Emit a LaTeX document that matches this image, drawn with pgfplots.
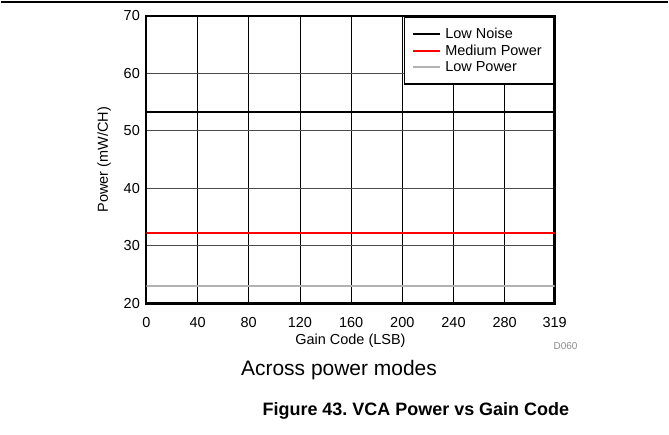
\documentclass[border=0pt]{standalone}
\usepackage{fontspec}
\setmainfont{Liberation Sans}
\usepackage{pgfplots}
\pgfplotsset{compat=1.18}
\frenchspacing
\begin{document}
\begin{tikzpicture}
\path (0pt,0pt) rectangle (669pt,435pt);
\draw[line width=1.3pt] (0pt,433pt) -- (669pt,433pt);
\begin{axis}[
  at={(146pt,131pt)}, anchor=south west,
  scale only axis, width=409pt, height=288pt,
  xmin=0, xmax=319, ymin=20, ymax=70,
  xtick={0,40,80,120,160,200,240,280,319},
  ytick={20,30,40,50,60,70},
  xmajorgrids, ymajorgrids,
  x grid style={black, line width=0.8pt},
  y grid style={black!70, line width=0.9pt},
  axis line style={line width=2.2pt},
  tick style={draw=none},
  /pgf/number format/assume math mode=true,
  ticklabel style={font=\fontsize{14.5}{17}\selectfont},
  xticklabel style={yshift=-10pt},
  yticklabel style={xshift=-3pt},
  xlabel={Gain Code (LSB)},
  ylabel={Power (mW/CH)},
  label style={font=\fontsize{14.5}{17}\selectfont},
  xlabel style={yshift=0pt},
  ylabel style={yshift=6pt},
  legend style={at={(1,1)}, anchor=north east, draw=black, line width=1.6pt, fill=white,
    font=\fontsize{14.5}{16.5}\selectfont, inner xsep=8pt, inner ysep=10.5pt,
    nodes={inner xsep=4pt, inner ysep=1pt}, row sep=2.5pt},
  legend cell align=left,
  legend image code/.code={\draw[#1, line width=1.8pt] (0pt,0pt) -- (27pt,0pt);},
]
\addplot[black, line width=2pt] coordinates {(0,53.3) (40,53.3) (80,53.3) (120,53.3) (160,53.3) (200,53.3) (240,53.3) (280,53.3) (319,53.3)};
\addlegendentry{Low Noise}
\addplot[red, line width=2pt] coordinates {(0,32.2) (40,32.2) (80,32.2) (120,32.2) (160,32.2) (200,32.2) (240,32.2) (280,32.2) (319,32.2)};
\addlegendentry{Medium Power}
\addplot[black!30, line width=2pt] coordinates {(0,23.0) (40,23.0) (80,23.0) (120,23.0) (160,23.0) (200,23.0) (240,23.0) (280,23.0) (319,23.0)};
\addlegendentry{Low Power}
\end{axis}
\node[font=\fontsize{10}{12}\selectfont, text=black!45] at (566pt,88pt) {D060};
\node[font=\fontsize{21}{24}\selectfont] at (339pt,64pt) {Across power modes};
\node[font=\fontsize{18}{21}\bfseries\selectfont] at (416pt,23pt) {Figure 43. VCA Power vs Gain Code};
\end{tikzpicture}
\end{document}
